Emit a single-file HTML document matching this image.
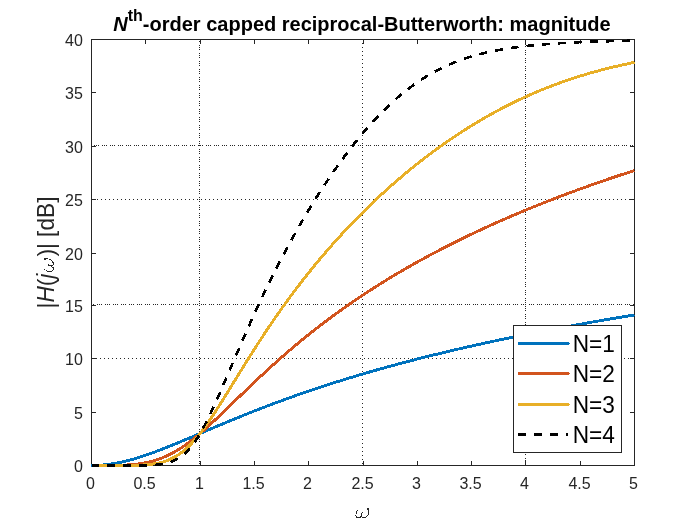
<!DOCTYPE html><html><head><meta charset="utf-8"><style>html,body{margin:0;padding:0;background:#fff}svg{display:block;will-change:transform}text{font-family:"Liberation Sans",sans-serif}</style></head><body>
<svg width="699" height="523" viewBox="0 0 699 523">
<rect width="699" height="523" fill="#fff"/>
<clipPath id="in"><rect x="92" y="40" width="542" height="425"/></clipPath>
<g stroke="#262626" stroke-width="1" shape-rendering="crispEdges" clip-path="url(#in)"><line x1="199.5" y1="37" x2="199.5" y2="466" stroke-dasharray="1 1 1 1 1 3"/><line x1="362.5" y1="39" x2="362.5" y2="466" stroke-dasharray="1 3"/><line x1="525.5" y1="34" x2="525.5" y2="466" stroke-dasharray="1 1 1 1 1 3"/><line x1="86" y1="145.5" x2="635" y2="145.5" stroke-dasharray="1 1 1 1 1 3"/><line x1="89" y1="199.5" x2="635" y2="199.5" stroke-dasharray="1 3"/><line x1="89" y1="304.5" x2="635" y2="304.5" stroke-dasharray="1 1 1 1 1 3"/><line x1="92" y1="358.5" x2="635" y2="358.5" stroke-dasharray="1 3"/></g>
<g fill="#262626" shape-rendering="crispEdges"><rect x="145" y="461" width="1" height="4"/><rect x="145" y="40" width="1" height="4"/><rect x="200" y="461" width="1" height="4"/><rect x="200" y="40" width="1" height="4"/><rect x="254" y="461" width="1" height="4"/><rect x="254" y="40" width="1" height="4"/><rect x="308" y="461" width="1" height="4"/><rect x="308" y="40" width="1" height="4"/><rect x="363" y="461" width="1" height="4"/><rect x="363" y="40" width="1" height="4"/><rect x="417" y="461" width="1" height="4"/><rect x="417" y="40" width="1" height="4"/><rect x="471" y="461" width="1" height="4"/><rect x="471" y="40" width="1" height="4"/><rect x="525" y="461" width="1" height="4"/><rect x="525" y="40" width="1" height="4"/><rect x="580" y="461" width="1" height="4"/><rect x="580" y="40" width="1" height="4"/><rect x="92" y="412" width="4" height="1"/><rect x="630" y="412" width="4" height="1"/><rect x="92" y="358" width="4" height="1"/><rect x="630" y="358" width="4" height="1"/><rect x="92" y="305" width="4" height="1"/><rect x="630" y="305" width="4" height="1"/><rect x="92" y="253" width="4" height="1"/><rect x="630" y="253" width="4" height="1"/><rect x="92" y="199" width="4" height="1"/><rect x="630" y="199" width="4" height="1"/><rect x="92" y="146" width="4" height="1"/><rect x="630" y="146" width="4" height="1"/><rect x="92" y="92" width="4" height="1"/><rect x="630" y="92" width="4" height="1"/><rect x="91" y="39" width="544" height="1"/><rect x="91" y="465" width="544" height="1"/><rect x="91" y="39" width="1" height="427"/><rect x="634" y="39" width="1" height="427"/></g>
<clipPath id="c"><rect x="91.0" y="38.0" width="544.0" height="429.0"/></clipPath>
<g fill="none" stroke-width="2.9" stroke-linejoin="round" shape-rendering="crispEdges" clip-path="url(#c)"><path d="M91.50,465.50 L93.67,465.48 L95.84,465.43 L98.02,465.33 L100.19,465.20 L102.36,465.04 L104.53,464.84 L106.70,464.60 L108.88,464.33 L111.05,464.03 L113.22,463.69 L115.39,463.31 L117.56,462.91 L119.74,462.47 L121.91,462.01 L124.08,461.51 L126.25,460.99 L128.42,460.44 L130.60,459.86 L132.77,459.26 L134.94,458.64 L137.11,457.99 L139.28,457.32 L141.46,456.62 L143.63,455.91 L145.80,455.18 L147.97,454.43 L150.14,453.67 L152.32,452.89 L154.49,452.09 L156.66,451.28 L158.83,450.46 L161.00,449.62 L163.18,448.78 L165.35,447.92 L167.52,447.06 L169.69,446.18 L171.86,445.30 L174.04,444.42 L176.21,443.52 L178.38,442.62 L180.55,441.72 L182.72,440.81 L184.90,439.90 L187.07,438.98 L189.24,438.06 L191.41,437.14 L193.58,436.22 L195.76,435.29 L197.93,434.37 L200.10,433.44 L202.27,432.52 L204.44,431.60 L206.62,430.67 L208.79,429.75 L210.96,428.83 L213.13,427.91 L215.30,426.99 L217.48,426.07 L219.65,425.16 L221.82,424.25 L223.99,423.34 L226.16,422.44 L228.34,421.53 L230.51,420.63 L232.68,419.74 L234.85,418.85 L237.02,417.96 L239.20,417.07 L241.37,416.19 L243.54,415.32 L245.71,414.44 L247.88,413.58 L250.06,412.71 L252.23,411.85 L254.40,410.99 L256.57,410.14 L258.74,409.30 L260.92,408.45 L263.09,407.62 L265.26,406.78 L267.43,405.95 L269.60,405.13 L271.78,404.31 L273.95,403.49 L276.12,402.68 L278.29,401.88 L280.46,401.08 L282.64,400.28 L284.81,399.49 L286.98,398.70 L289.15,397.92 L291.32,397.14 L293.50,396.37 L295.67,395.60 L297.84,394.83 L300.01,394.07 L302.18,393.32 L304.36,392.57 L306.53,391.82 L308.70,391.08 L310.87,390.34 L313.04,389.61 L315.22,388.88 L317.39,388.15 L319.56,387.43 L321.73,386.72 L323.90,386.01 L326.08,385.30 L328.25,384.60 L330.42,383.90 L332.59,383.20 L334.76,382.51 L336.94,381.83 L339.11,381.15 L341.28,380.47 L343.45,379.79 L345.62,379.12 L347.80,378.46 L349.97,377.80 L352.14,377.14 L354.31,376.48 L356.48,375.83 L358.66,375.19 L360.83,374.54 L363.00,373.90 L365.17,373.27 L367.34,372.64 L369.52,372.01 L371.69,371.38 L373.86,370.76 L376.03,370.14 L378.20,369.53 L380.38,368.92 L382.55,368.31 L384.72,367.71 L386.89,367.11 L389.06,366.51 L391.24,365.92 L393.41,365.33 L395.58,364.74 L397.75,364.16 L399.92,363.57 L402.10,363.00 L404.27,362.42 L406.44,361.85 L408.61,361.28 L410.78,360.72 L412.96,360.16 L415.13,359.60 L417.30,359.04 L419.47,358.49 L421.64,357.94 L423.82,357.39 L425.99,356.85 L428.16,356.31 L430.33,355.77 L432.50,355.23 L434.68,354.70 L436.85,354.17 L439.02,353.64 L441.19,353.12 L443.36,352.59 L445.54,352.07 L447.71,351.56 L449.88,351.04 L452.05,350.53 L454.22,350.02 L456.40,349.52 L458.57,349.01 L460.74,348.51 L462.91,348.01 L465.08,347.52 L467.26,347.02 L469.43,346.53 L471.60,346.04 L473.77,345.55 L475.94,345.07 L478.12,344.59 L480.29,344.11 L482.46,343.63 L484.63,343.15 L486.80,342.68 L488.98,342.21 L491.15,341.74 L493.32,341.28 L495.49,340.81 L497.66,340.35 L499.84,339.89 L502.01,339.43 L504.18,338.98 L506.35,338.52 L508.52,338.07 L510.70,337.62 L512.87,337.17 L515.04,336.73 L517.21,336.29 L519.38,335.84 L521.56,335.40 L523.73,334.97 L525.90,334.53 L528.07,334.10 L530.24,333.67 L532.42,333.24 L534.59,332.81 L536.76,332.38 L538.93,331.96 L541.10,331.54 L543.28,331.11 L545.45,330.70 L547.62,330.28 L549.79,329.86 L551.96,329.45 L554.14,329.04 L556.31,328.63 L558.48,328.22 L560.65,327.81 L562.82,327.41 L565.00,327.01 L567.17,326.60 L569.34,326.20 L571.51,325.81 L573.68,325.41 L575.86,325.01 L578.03,324.62 L580.20,324.23 L582.37,323.84 L584.54,323.45 L586.72,323.06 L588.89,322.68 L591.06,322.29 L593.23,321.91 L595.40,321.53 L597.58,321.15 L599.75,320.77 L601.92,320.40 L604.09,320.02 L606.26,319.65 L608.44,319.28 L610.61,318.91 L612.78,318.54 L614.95,318.17 L617.12,317.80 L619.30,317.44 L621.47,317.07 L623.64,316.71 L625.81,316.35 L627.98,315.99 L630.16,315.63 L632.33,315.28 L634.50,314.92" stroke="#0072BD"/><path d="M91.50,465.50 L93.67,465.50 L95.84,465.50 L98.02,465.50 L100.19,465.50 L102.36,465.50 L104.53,465.49 L106.70,465.48 L108.88,465.47 L111.05,465.45 L113.22,465.43 L115.39,465.39 L117.56,465.35 L119.74,465.29 L121.91,465.22 L124.08,465.13 L126.25,465.02 L128.42,464.89 L130.60,464.73 L132.77,464.55 L134.94,464.33 L137.11,464.08 L139.28,463.80 L141.46,463.47 L143.63,463.11 L145.80,462.70 L147.97,462.24 L150.14,461.73 L152.32,461.16 L154.49,460.54 L156.66,459.86 L158.83,459.13 L161.00,458.33 L163.18,457.46 L165.35,456.54 L167.52,455.55 L169.69,454.49 L171.86,453.37 L174.04,452.19 L176.21,450.94 L178.38,449.62 L180.55,448.25 L182.72,446.81 L184.90,445.32 L187.07,443.77 L189.24,442.17 L191.41,440.52 L193.58,438.81 L195.76,437.07 L197.93,435.28 L200.10,433.44 L202.27,431.58 L204.44,429.68 L206.62,427.74 L208.79,425.78 L210.96,423.80 L213.13,421.79 L215.30,419.76 L217.48,417.71 L219.65,415.65 L221.82,413.58 L223.99,411.49 L226.16,409.40 L228.34,407.30 L230.51,405.19 L232.68,403.09 L234.85,400.98 L237.02,398.87 L239.20,396.77 L241.37,394.66 L243.54,392.57 L245.71,390.47 L247.88,388.39 L250.06,386.31 L252.23,384.23 L254.40,382.17 L256.57,380.12 L258.74,378.07 L260.92,376.04 L263.09,374.02 L265.26,372.01 L267.43,370.01 L269.60,368.02 L271.78,366.05 L273.95,364.09 L276.12,362.14 L278.29,360.20 L280.46,358.28 L282.64,356.37 L284.81,354.48 L286.98,352.59 L289.15,350.73 L291.32,348.87 L293.50,347.03 L295.67,345.20 L297.84,343.39 L300.01,341.59 L302.18,339.81 L304.36,338.03 L306.53,336.28 L308.70,334.53 L310.87,332.80 L313.04,331.08 L315.22,329.38 L317.39,327.68 L319.56,326.01 L321.73,324.34 L323.90,322.69 L326.08,321.05 L328.25,319.42 L330.42,317.80 L332.59,316.20 L334.76,314.61 L336.94,313.03 L339.11,311.46 L341.28,309.91 L343.45,308.37 L345.62,306.84 L347.80,305.32 L349.97,303.81 L352.14,302.31 L354.31,300.82 L356.48,299.35 L358.66,297.88 L360.83,296.43 L363.00,294.99 L365.17,293.56 L367.34,292.13 L369.52,290.72 L371.69,289.32 L373.86,287.93 L376.03,286.55 L378.20,285.18 L380.38,283.82 L382.55,282.46 L384.72,281.12 L386.89,279.79 L389.06,278.46 L391.24,277.15 L393.41,275.84 L395.58,274.55 L397.75,273.26 L399.92,271.98 L402.10,270.71 L404.27,269.45 L406.44,268.20 L408.61,266.95 L410.78,265.71 L412.96,264.48 L415.13,263.26 L417.30,262.05 L419.47,260.85 L421.64,259.65 L423.82,258.46 L425.99,257.28 L428.16,256.11 L430.33,254.94 L432.50,253.78 L434.68,252.63 L436.85,251.49 L439.02,250.35 L441.19,249.22 L443.36,248.10 L445.54,246.98 L447.71,245.87 L449.88,244.77 L452.05,243.67 L454.22,242.59 L456.40,241.50 L458.57,240.43 L460.74,239.36 L462.91,238.30 L465.08,237.24 L467.26,236.19 L469.43,235.15 L471.60,234.11 L473.77,233.08 L475.94,232.05 L478.12,231.03 L480.29,230.02 L482.46,229.01 L484.63,228.01 L486.80,227.01 L488.98,226.02 L491.15,225.04 L493.32,224.06 L495.49,223.09 L497.66,222.12 L499.84,221.15 L502.01,220.20 L504.18,219.25 L506.35,218.30 L508.52,217.36 L510.70,216.42 L512.87,215.49 L515.04,214.56 L517.21,213.64 L519.38,212.73 L521.56,211.82 L523.73,210.91 L525.90,210.01 L528.07,209.12 L530.24,208.22 L532.42,207.34 L534.59,206.46 L536.76,205.58 L538.93,204.71 L541.10,203.84 L543.28,202.98 L545.45,202.12 L547.62,201.26 L549.79,200.42 L551.96,199.57 L554.14,198.73 L556.31,197.89 L558.48,197.06 L560.65,196.23 L562.82,195.41 L565.00,194.59 L567.17,193.78 L569.34,192.97 L571.51,192.16 L573.68,191.36 L575.86,190.56 L578.03,189.77 L580.20,188.98 L582.37,188.19 L584.54,187.41 L586.72,186.63 L588.89,185.86 L591.06,185.09 L593.23,184.32 L595.40,183.56 L597.58,182.80 L599.75,182.05 L601.92,181.30 L604.09,180.55 L606.26,179.80 L608.44,179.06 L610.61,178.33 L612.78,177.60 L614.95,176.87 L617.12,176.14 L619.30,175.42 L621.47,174.70 L623.64,173.99 L625.81,173.28 L627.98,172.57 L630.16,171.87 L632.33,171.17 L634.50,170.47" stroke="#D2541E"/><path d="M91.50,465.50 L93.67,465.50 L95.84,465.50 L98.02,465.50 L100.19,465.50 L102.36,465.50 L104.53,465.50 L106.70,465.50 L108.88,465.50 L111.05,465.50 L113.22,465.50 L115.39,465.49 L117.56,465.49 L119.74,465.49 L121.91,465.48 L124.08,465.47 L126.25,465.45 L128.42,465.43 L130.60,465.40 L132.77,465.36 L134.94,465.31 L137.11,465.25 L139.28,465.17 L141.46,465.06 L143.63,464.94 L145.80,464.78 L147.97,464.59 L150.14,464.37 L152.32,464.10 L154.49,463.77 L156.66,463.39 L158.83,462.95 L161.00,462.43 L163.18,461.83 L165.35,461.14 L167.52,460.36 L169.69,459.47 L171.86,458.47 L174.04,457.35 L176.21,456.11 L178.38,454.73 L180.55,453.22 L182.72,451.58 L184.90,449.79 L187.07,447.86 L189.24,445.79 L191.41,443.58 L193.58,441.24 L195.76,438.76 L197.93,436.16 L200.10,433.44 L202.27,430.62 L204.44,427.68 L206.62,424.66 L208.79,421.55 L210.96,418.36 L213.13,415.10 L215.30,411.78 L217.48,408.42 L219.65,405.00 L221.82,401.56 L223.99,398.08 L226.16,394.58 L228.34,391.06 L230.51,387.54 L232.68,384.00 L234.85,380.47 L237.02,376.94 L239.20,373.41 L241.37,369.90 L243.54,366.39 L245.71,362.90 L247.88,359.43 L250.06,355.98 L252.23,352.55 L254.40,349.14 L256.57,345.75 L258.74,342.39 L260.92,339.06 L263.09,335.75 L265.26,332.47 L267.43,329.21 L269.60,325.99 L271.78,322.79 L273.95,319.62 L276.12,316.48 L278.29,313.36 L280.46,310.28 L282.64,307.22 L284.81,304.20 L286.98,301.20 L289.15,298.23 L291.32,295.28 L293.50,292.37 L295.67,289.48 L297.84,286.62 L300.01,283.79 L302.18,280.98 L304.36,278.20 L306.53,275.45 L308.70,272.72 L310.87,270.02 L313.04,267.34 L315.22,264.69 L317.39,262.06 L319.56,259.46 L321.73,256.88 L323.90,254.33 L326.08,251.80 L328.25,249.29 L330.42,246.81 L332.59,244.35 L334.76,241.91 L336.94,239.49 L339.11,237.10 L341.28,234.72 L343.45,232.37 L345.62,230.04 L347.80,227.73 L349.97,225.45 L352.14,223.18 L354.31,220.93 L356.48,218.71 L358.66,216.50 L360.83,214.31 L363.00,212.14 L365.17,209.99 L367.34,207.86 L369.52,205.75 L371.69,203.66 L373.86,201.59 L376.03,199.54 L378.20,197.50 L380.38,195.48 L382.55,193.48 L384.72,191.50 L386.89,189.53 L389.06,187.59 L391.24,185.66 L393.41,183.74 L395.58,181.85 L397.75,179.97 L399.92,178.11 L402.10,176.26 L404.27,174.43 L406.44,172.62 L408.61,170.83 L410.78,169.05 L412.96,167.29 L415.13,165.54 L417.30,163.81 L419.47,162.10 L421.64,160.40 L423.82,158.72 L425.99,157.05 L428.16,155.40 L430.33,153.77 L432.50,152.15 L434.68,150.54 L436.85,148.96 L439.02,147.38 L441.19,145.83 L443.36,144.28 L445.54,142.76 L447.71,141.25 L449.88,139.75 L452.05,138.27 L454.22,136.81 L456.40,135.36 L458.57,133.92 L460.74,132.50 L462.91,131.09 L465.08,129.70 L467.26,128.33 L469.43,126.97 L471.60,125.62 L473.77,124.29 L475.94,122.97 L478.12,121.67 L480.29,120.38 L482.46,119.11 L484.63,117.85 L486.80,116.61 L488.98,115.38 L491.15,114.16 L493.32,112.96 L495.49,111.78 L497.66,110.61 L499.84,109.45 L502.01,108.31 L504.18,107.18 L506.35,106.06 L508.52,104.96 L510.70,103.87 L512.87,102.80 L515.04,101.74 L517.21,100.70 L519.38,99.66 L521.56,98.65 L523.73,97.64 L525.90,96.65 L528.07,95.67 L530.24,94.71 L532.42,93.76 L534.59,92.82 L536.76,91.90 L538.93,90.99 L541.10,90.09 L543.28,89.20 L545.45,88.33 L547.62,87.47 L549.79,86.63 L551.96,85.79 L554.14,84.97 L556.31,84.16 L558.48,83.36 L560.65,82.58 L562.82,81.81 L565.00,81.05 L567.17,80.30 L569.34,79.56 L571.51,78.84 L573.68,78.12 L575.86,77.42 L578.03,76.73 L580.20,76.05 L582.37,75.38 L584.54,74.73 L586.72,74.08 L588.89,73.45 L591.06,72.82 L593.23,72.21 L595.40,71.60 L597.58,71.01 L599.75,70.43 L601.92,69.85 L604.09,69.29 L606.26,68.74 L608.44,68.19 L610.61,67.66 L612.78,67.13 L614.95,66.62 L617.12,66.11 L619.30,65.61 L621.47,65.13 L623.64,64.65 L625.81,64.18 L627.98,63.71 L630.16,63.26 L632.33,62.82 L634.50,62.38" stroke="#E8AF28"/><path d="M91.50,465.50 L93.67,465.50 L95.84,465.50 L98.02,465.50 L100.19,465.50 L102.36,465.50 L104.53,465.50 L106.70,465.50 L108.88,465.50 L111.05,465.50 L113.22,465.50 L115.39,465.50 L117.56,465.50 L119.74,465.50 L121.91,465.50 L124.08,465.50 L126.25,465.49 L128.42,465.49 L130.60,465.49 L132.77,465.48 L134.94,465.47 L137.11,465.46 L139.28,465.44 L141.46,465.41 L143.63,465.37 L145.80,465.32 L147.97,465.25 L150.14,465.17 L152.32,465.05 L154.49,464.91 L156.66,464.73 L158.83,464.50 L161.00,464.22 L163.18,463.86 L165.35,463.43 L167.52,462.91 L169.69,462.28 L171.86,461.52 L174.04,460.62 L176.21,459.56 L178.38,458.33 L180.55,456.90 L182.72,455.26 L184.90,453.39 L187.07,451.29 L189.24,448.94 L191.41,446.34 L193.58,443.49 L195.76,440.38 L197.93,437.03 L200.10,433.44 L202.27,429.64 L204.44,425.62 L206.62,421.42 L208.79,417.05 L210.96,412.53 L213.13,407.89 L215.30,403.13 L217.48,398.28 L219.65,393.36 L221.82,388.39 L223.99,383.37 L226.16,378.32 L228.34,373.25 L230.51,368.18 L232.68,363.11 L234.85,358.05 L237.02,353.01 L239.20,347.99 L241.37,342.99 L243.54,338.03 L245.71,333.11 L247.88,328.22 L250.06,323.38 L252.23,318.58 L254.40,313.82 L256.57,309.11 L258.74,304.44 L260.92,299.82 L263.09,295.25 L265.26,290.72 L267.43,286.25 L269.60,281.82 L271.78,277.44 L273.95,273.11 L276.12,268.82 L278.29,264.58 L280.46,260.39 L282.64,256.25 L284.81,252.15 L286.98,248.10 L289.15,244.09 L291.32,240.13 L293.50,236.21 L295.67,232.34 L297.84,228.51 L300.01,224.72 L302.18,220.98 L304.36,217.28 L306.53,213.63 L308.70,210.01 L310.87,206.44 L313.04,202.91 L315.22,199.42 L317.39,195.97 L319.56,192.56 L321.73,189.20 L323.90,185.87 L326.08,182.59 L328.25,179.35 L330.42,176.14 L332.59,172.98 L334.76,169.86 L336.94,166.78 L339.11,163.74 L341.28,160.74 L343.45,157.78 L345.62,154.86 L347.80,151.98 L349.97,149.14 L352.14,146.35 L354.31,143.59 L356.48,140.88 L358.66,138.21 L360.83,135.58 L363.00,132.99 L365.17,130.45 L367.34,127.95 L369.52,125.48 L371.69,123.07 L373.86,120.69 L376.03,118.36 L378.20,116.07 L380.38,113.83 L382.55,111.63 L384.72,109.47 L386.89,107.35 L389.06,105.28 L391.24,103.26 L393.41,101.27 L395.58,99.33 L397.75,97.44 L399.92,95.58 L402.10,93.78 L404.27,92.01 L406.44,90.29 L408.61,88.61 L410.78,86.97 L412.96,85.38 L415.13,83.83 L417.30,82.32 L419.47,80.85 L421.64,79.42 L423.82,78.04 L425.99,76.69 L428.16,75.38 L430.33,74.11 L432.50,72.88 L434.68,71.69 L436.85,70.53 L439.02,69.41 L441.19,68.33 L443.36,67.28 L445.54,66.27 L447.71,65.29 L449.88,64.34 L452.05,63.42 L454.22,62.54 L456.40,61.68 L458.57,60.86 L460.74,60.06 L462.91,59.30 L465.08,58.56 L467.26,57.84 L469.43,57.16 L471.60,56.49 L473.77,55.86 L475.94,55.24 L478.12,54.65 L480.29,54.08 L482.46,53.53 L484.63,53.00 L486.80,52.50 L488.98,52.01 L491.15,51.54 L493.32,51.09 L495.49,50.65 L497.66,50.23 L499.84,49.83 L502.01,49.45 L504.18,49.07 L506.35,48.72 L508.52,48.37 L510.70,48.04 L512.87,47.73 L515.04,47.42 L517.21,47.13 L519.38,46.85 L521.56,46.58 L523.73,46.32 L525.90,46.07 L528.07,45.83 L530.24,45.60 L532.42,45.37 L534.59,45.16 L536.76,44.96 L538.93,44.76 L541.10,44.57 L543.28,44.39 L545.45,44.21 L547.62,44.05 L549.79,43.88 L551.96,43.73 L554.14,43.58 L556.31,43.43 L558.48,43.30 L560.65,43.16 L562.82,43.04 L565.00,42.91 L567.17,42.79 L569.34,42.68 L571.51,42.57 L573.68,42.47 L575.86,42.36 L578.03,42.27 L580.20,42.17 L582.37,42.08 L584.54,41.99 L586.72,41.91 L588.89,41.83 L591.06,41.75 L593.23,41.68 L595.40,41.60 L597.58,41.53 L599.75,41.47 L601.92,41.40 L604.09,41.34 L606.26,41.28 L608.44,41.22 L610.61,41.17 L612.78,41.11 L614.95,41.06 L617.12,41.01 L619.30,40.96 L621.47,40.92 L623.64,40.87 L625.81,40.83 L627.98,40.79 L630.16,40.75 L632.33,40.71 L634.50,40.67" stroke="#000" stroke-width="2.6" stroke-dasharray="8 8" stroke-dashoffset="0.8"/></g>
<g font-size="16" fill="#262626"><text x="90.5" y="489" text-anchor="middle">0</text><text x="144.5" y="489" text-anchor="middle">0.5</text><text x="199.5" y="489" text-anchor="middle">1</text><text x="253.5" y="489" text-anchor="middle">1.5</text><text x="307.5" y="489" text-anchor="middle">2</text><text x="362.5" y="489" text-anchor="middle">2.5</text><text x="416.5" y="489" text-anchor="middle">3</text><text x="470.5" y="489" text-anchor="middle">3.5</text><text x="524.5" y="489" text-anchor="middle">4</text><text x="579.5" y="489" text-anchor="middle">4.5</text><text x="633.5" y="489" text-anchor="middle">5</text><text x="82.9" y="472.2" text-anchor="end">0</text><text x="82.9" y="419.2" text-anchor="end">5</text><text x="82.9" y="365.2" text-anchor="end">10</text><text x="82.9" y="312.2" text-anchor="end">15</text><text x="82.9" y="260.2" text-anchor="end">20</text><text x="82.9" y="206.2" text-anchor="end">25</text><text x="82.9" y="153.2" text-anchor="end">30</text><text x="82.9" y="99.2" text-anchor="end">35</text><text x="82.9" y="46.2" text-anchor="end">40</text></g>
<text x="362" y="31" text-anchor="middle" font-size="20" font-weight="bold" fill="#000"><tspan font-style="italic">N</tspan><tspan font-size="16" dy="-10.3">th</tspan><tspan dy="10.3">-order capped reciprocal-Butterworth: magnitude</tspan></text>
<g transform="translate(53.6,308.5) rotate(-90) scale(1,1.05)" font-size="22.67" fill="#262626"><text x="0" y="0">|<tspan font-style="italic">H</tspan>(<tspan font-style="italic">j</tspan></text><text x="51.9" y="0">)| [dB]</text></g>
<path d="M44 258h1v1h-1zM45 258h1v1h-1zM46 258h1v1h-1zM47 258h1v1h-1zM44 259h1v1h-1zM45 259h1v1h-1zM49 259h1v1h-1zM50 259h1v1h-1zM51 260h1v1h-1zM52 261h1v1h-1zM52 262h1v1h-1zM53 262h1v1h-1zM53 263h1v1h-1zM48 264h1v1h-1zM53 264h1v1h-1zM48 265h1v1h-1zM49 265h1v1h-1zM50 265h1v1h-1zM51 265h1v1h-1zM52 265h1v1h-1zM51 266h1v1h-1zM52 267h1v1h-1zM53 267h1v1h-1zM53 268h1v1h-1zM44 269h1v1h-1zM53 269h1v1h-1zM46 270h1v1h-1zM52 270h1v1h-1zM47 271h1v1h-1zM48 271h1v1h-1zM49 271h1v1h-1zM50 271h1v1h-1zM51 271h1v1h-1z" fill="#262626" shape-rendering="crispEdges"/>
<path d="M367 508h1v1h-1zM368 508h1v1h-1zM367 509h1v1h-1zM368 509h1v1h-1zM357 510h1v1h-1zM368 510h1v1h-1zM356 511h1v1h-1zM368 511h1v1h-1zM356 512h1v1h-1zM362 512h1v1h-1zM368 512h1v1h-1zM356 513h1v1h-1zM361 513h1v1h-1zM368 513h1v1h-1zM361 514h1v1h-1zM368 514h1v1h-1zM355 515h1v1h-1zM361 515h1v1h-1zM367 515h1v1h-1zM356 516h1v1h-1zM360 516h1v1h-1zM361 516h1v1h-1zM366 516h1v1h-1zM356 517h1v1h-1zM357 517h1v1h-1zM358 517h1v1h-1zM359 517h1v1h-1zM360 517h1v1h-1zM362 517h1v1h-1zM363 517h1v1h-1zM364 517h1v1h-1zM365 517h1v1h-1z" fill="#262626" shape-rendering="crispEdges"/>
<rect x="513.5" y="325.5" width="108" height="127" fill="#fff" stroke="#262626" stroke-width="1" shape-rendering="crispEdges"/><path d="M518 342.0h51v1h1v1h-1v1h-51z" fill="#0072BD" shape-rendering="crispEdges"/><text transform="translate(572.7,352.0) scale(1,1.07)" font-size="22.67" fill="#000">N=1</text><path d="M518 372.0h51v1h1v1h-1v1h-51z" fill="#D2541E" shape-rendering="crispEdges"/><text transform="translate(572.7,382.0) scale(1,1.07)" font-size="22.67" fill="#000">N=2</text><path d="M518 403.0h51v1h1v1h-1v1h-51z" fill="#E8AF28" shape-rendering="crispEdges"/><text transform="translate(572.7,413.0) scale(1,1.07)" font-size="22.67" fill="#000">N=3</text><rect x="518" y="433.0" width="8" height="3" fill="#000" shape-rendering="crispEdges"/><rect x="534" y="433.0" width="8" height="3" fill="#000" shape-rendering="crispEdges"/><rect x="550" y="433.0" width="8" height="3" fill="#000" shape-rendering="crispEdges"/><rect x="566" y="433.0" width="2.3" height="3" fill="#000" shape-rendering="crispEdges"/><text transform="translate(572.7,443.0) scale(1,1.07)" font-size="22.67" fill="#000">N=4</text>
</svg></body></html>
